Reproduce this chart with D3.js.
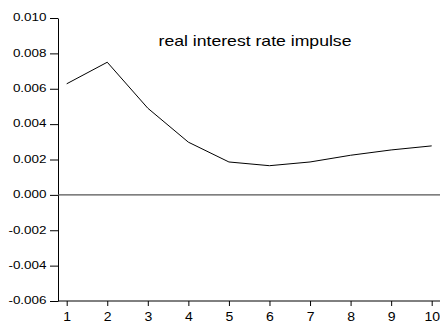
<!DOCTYPE html>
<html>
<head>
<meta charset="utf-8">
<script src="https://cdn.jsdelivr.net/npm/d3@7"></script>
<style>
  html, body { margin: 0; padding: 0; background: #fff; }
  svg { display: block; }
  text { font-family: "Liberation Sans", Arial, sans-serif; fill: #000; }
</style>
</head>
<body>
<svg id="chart" width="440" height="327"></svg>
<script>
// Impulse response of the real interest rate, periods 1..10
const periods = [1, 2, 3, 4, 5, 6, 7, 8, 9, 10];
const response = [0.00628, 0.0075, 0.0049, 0.00298, 0.00186, 0.00165, 0.00186, 0.00224, 0.00254, 0.00277];
const yTicks = [-0.006, -0.004, -0.002, 0.000, 0.002, 0.004, 0.006, 0.008, 0.010];
const title = "real interest rate impulse";

const svg = d3.select("#chart");

const x = d3.scaleLinear().domain([1, 10]).range([66.7, 431.7]);
const y = d3.scaleLinear().domain([-0.006, 0.010]).range([301, 18]);

const axisLeftX = 58;
const plotRight = 440;

// Plain hyphen for negatives, three decimals
const fmtY = d => d3.format(".3f")(d).replace("\u2212", "-");

// Left axis
const gy = svg.append("g")
  .attr("transform", `translate(${axisLeftX},0)`)
  .call(d3.axisLeft(y).tickValues(yTicks).tickFormat(fmtY).tickSize(8).tickSizeOuter(0));
gy.select(".domain").attr("stroke", "#000");
gy.selectAll(".tick line").attr("stroke", "#000");
gy.selectAll(".tick text")
  .attr("font-size", 11.2)
  .attr("dy", null)
  .attr("x", 0)
  .attr("y", 0)
  .attr("text-anchor", "end")
  .attr("transform", "translate(-11.5,2.8) scale(1.2,1)");

// Bottom axis
const gx = svg.append("g")
  .attr("transform", `translate(0,${y(-0.006)})`)
  .call(d3.axisBottom(x).tickValues(periods).tickFormat(d3.format("d")).tickSize(5).tickSizeOuter(0));
gx.select(".domain").attr("d", `M${axisLeftX},0H${plotRight}`).attr("stroke", "#000");
gx.selectAll(".tick line").attr("stroke", "#000");
gx.selectAll(".tick text")
  .attr("font-size", 13)
  .attr("dy", null)
  .attr("y", 0)
  .attr("transform", "translate(0,20) scale(1.08,1)");

// Zero reference line
svg.append("line")
  .attr("x1", axisLeftX).attr("x2", plotRight)
  .attr("y1", y(0)).attr("y2", y(0))
  .attr("stroke", "#555").attr("stroke-width", 1.2);

// Response line
const line = d3.line().x((d, i) => x(periods[i])).y(d => y(d));
svg.append("path")
  .datum(response)
  .attr("fill", "none")
  .attr("stroke", "#000")
  .attr("stroke-width", 1)
  .attr("d", line);

// Title
svg.append("text")
  .attr("text-anchor", "middle")
  .attr("font-size", 14)
  .attr("transform", "translate(255,46) scale(1.26,1)")
  .text(title);
</script>
</body>
</html>
